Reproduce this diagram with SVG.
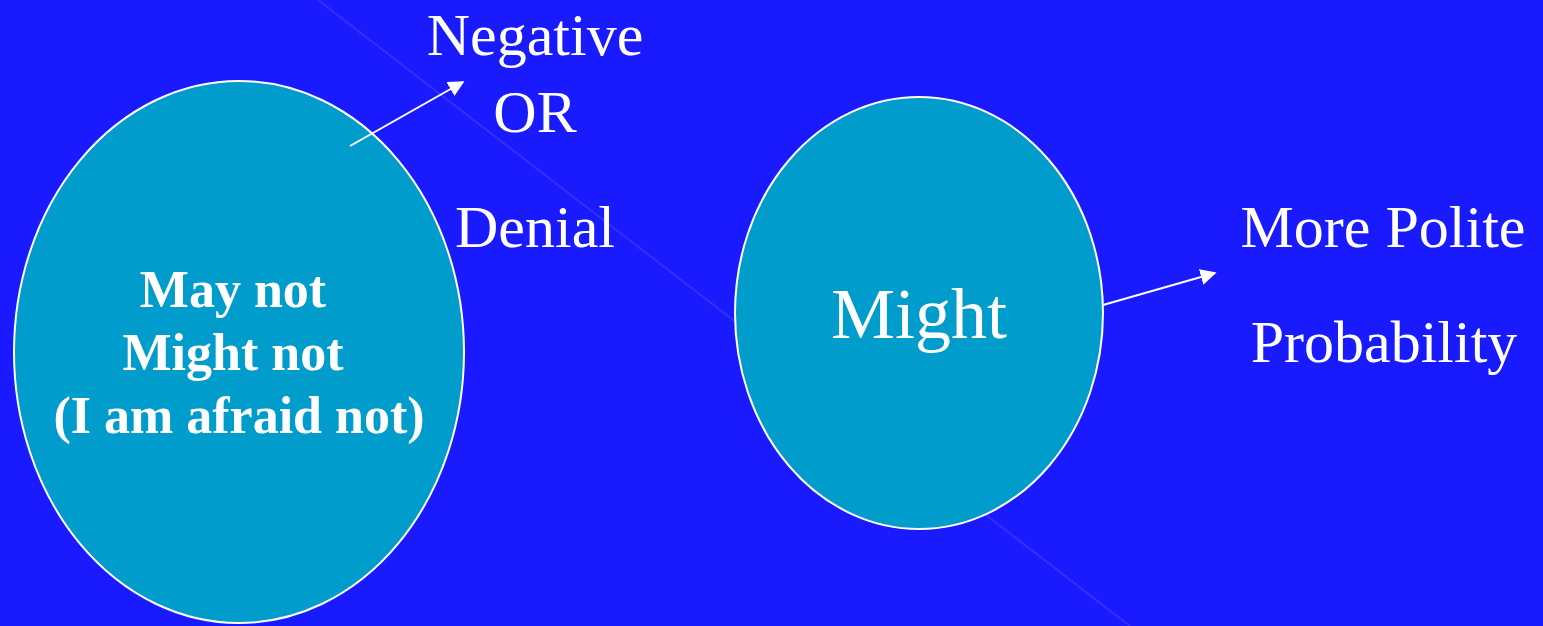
<svg xmlns="http://www.w3.org/2000/svg" width="1543" height="626" viewBox="0 0 1543 626">
  <defs>
    <marker id="ah2" viewBox="0 0 10 10" refX="9" refY="5" markerWidth="16" markerHeight="16" markerUnits="userSpaceOnUse" orient="auto">
      <path d="M0,0 L10,5 L0,10 z" fill="#ffffff"/>
    </marker>
  </defs>
  <style>
    .node { fill: #009ccc; stroke: #ffffff; stroke-width: 2; }
    .lbl { font-family: "Liberation Serif", "Times New Roman", serif; fill: #ffffff; font-size: 60px; }
    .bold { font-family: "Liberation Serif", "Times New Roman", serif; fill: #ffffff; font-size: 52px; font-weight: bold; }
    .conn { stroke: #ffffff; stroke-width: 2; fill: none; marker-end: url(#ah2); }
  </style>
  <rect x="0" y="0" width="1543" height="626" fill="#1a1aff"/>
  <line x1="318" y1="0" x2="1130" y2="626" stroke="#4848ff" stroke-width="2" opacity="0.5"/>

  <g id="node-left">
    <ellipse class="node" cx="239" cy="352" rx="225" ry="271"/>
    <text class="bold" x="233" y="307" text-anchor="middle">May not</text>
    <text class="bold" x="233" y="370" text-anchor="middle">Might not</text>
    <text class="bold" x="239" y="433" text-anchor="middle">(I am afraid not)</text>
  </g>

  <g id="node-right">
    <ellipse class="node" cx="919" cy="313" rx="184" ry="216"/>
    <text class="lbl" x="919" y="338" text-anchor="middle" style="font-size:72px">Might</text>
  </g>

  <g id="label-negative">
    <text class="lbl" x="535" y="55" text-anchor="middle">Negative</text>
    <text class="lbl" x="535" y="132" text-anchor="middle">OR</text>
    <text class="lbl" x="535" y="247" text-anchor="middle">Denial</text>
  </g>

  <g id="label-polite">
    <text class="lbl" x="1383" y="247" text-anchor="middle">More Polite</text>
    <text class="lbl" x="1384" y="362" text-anchor="middle">Probability</text>
  </g>

  <g id="connectors">
    <line class="conn" x1="350" y1="146" x2="463" y2="82"/>
    <line class="conn" x1="1103" y1="305" x2="1215" y2="273"/>
  </g>
</svg>
